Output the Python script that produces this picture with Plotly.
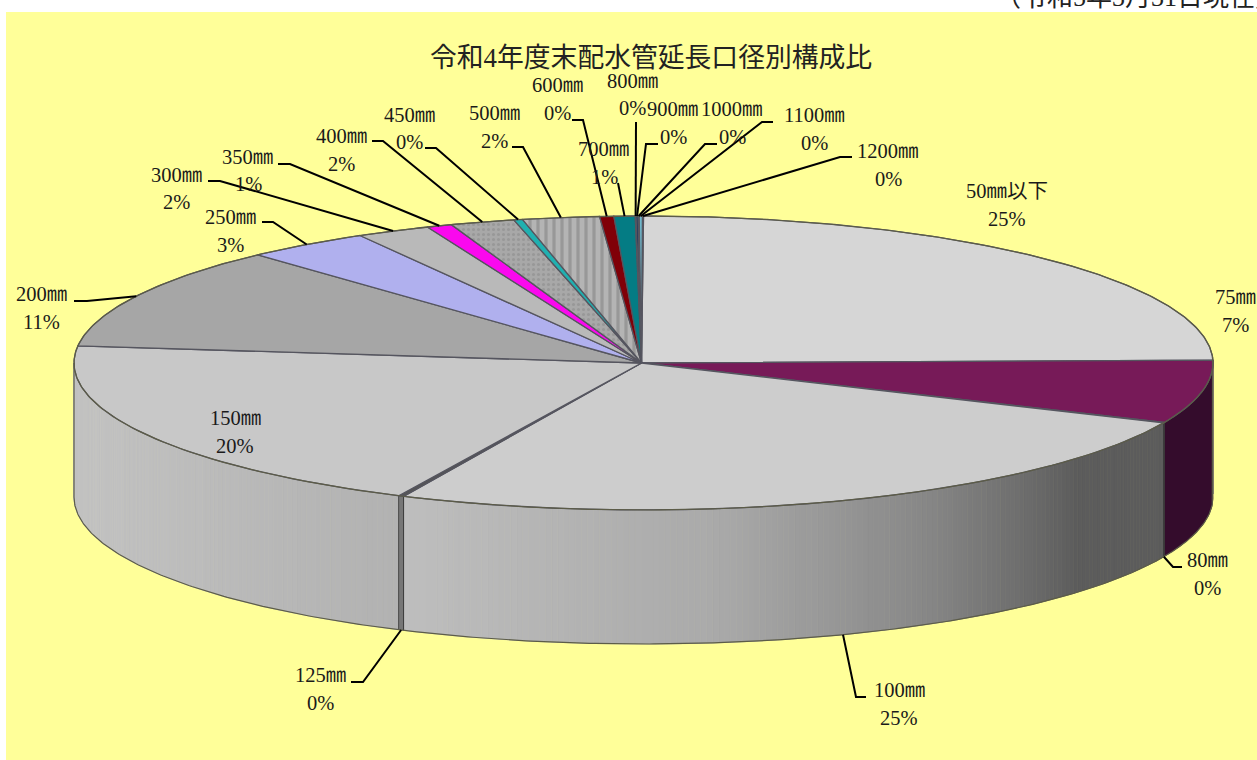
import math
import plotly.graph_objects as go

# ---- data ----
categories = ["50㎜以下", "75㎜", "80㎜", "100㎜", "125㎜", "150㎜", "200㎜", "250㎜", "300㎜", "350㎜",
              "400㎜", "450㎜", "500㎜", "600㎜", "700㎜", "800㎜", "900㎜", "1000㎜", "1100㎜", "1200㎜"]
shares = [24.7, 6.95, 0.05, 25.25, 0.15, 19.8, 11.3, 3.55, 2.1, 0.72,
          1.82, 0.25, 2.18, 0.4, 0.6, 0.02, 0.06, 0.03, 0.09, 0.03]
pct_labels = ["25%", "7%", "0%", "25%", "0%", "20%", "11%", "3%", "2%", "1%",
              "2%", "0%", "2%", "0%", "1%", "0%", "0%", "0%", "0%", "0%"]
title_text = "令和4年度末配水管延長口径別構成比"
note_text = "（令和5年3月31日現在）"

# ---- styles ----
top_colors = ["#d6d6d6", "#771a58", "#555555", "#cdcdcd", "#555555", "#c8c8c8", "#a6a6a6", "#b0b0ee", "#b9b9b9", "#fa08ee",
              "#a8a8a8", "#20b0b0", "#b4b4b4", "#800008", "#047c84", "#000030", "#103060", "#101040", "#70b8cc", "#c0c0e0"]
side_colors = ["#c0c0c0", "#340c2c", "#333333", None, "#777777", None, "#888888", "#8888bb", "#999999", "#aa00aa",
               "#888888", "#108080", "#888888", "#500000", "#005050", "#000000", "#202040", "#101030", "#6090a0", "#9090a0"]
patterned = {10: (".", 5, 0.3, "#989898"), 12: ("|", 8, 0.4, "#989898")}
grad_100 = [(0.0, (190, 190, 190)), (0.35, (170, 170, 170)), (0.6, (135, 135, 135)), (0.82, (92, 92, 92)), (1.0, (92, 92, 92))]
grad_150 = [(0.0, (178, 178, 178)), (0.5, (190, 190, 190)), (1.0, (196, 196, 196))]

# ---- label layout: (name x, name y, pct x, pct y, leader elbow points from anchor outward) ----
label_pos = [
    (1007, 191, 1007, 219, []), (1235, 297, 1235, 325, []),
    (1207, 560, 1207, 588, [(1173, 567), (1182, 567)]),
    (899, 690, 899, 718, [(856, 697), (866, 697)]),
    (320, 675, 320, 703, [(363, 682), (351, 682)]),
    (235, 418, 235, 446, []),
    (41, 294, 41, 322, [(87, 301), (74, 301)]),
    (230, 217, 230, 245, [(273, 222), (262, 222)]),
    (176, 175, 176, 202, [(220, 181), (208, 181)]),
    (247, 157, 248, 184, [(290, 164), (278, 164)]),
    (341, 136, 341, 164, [(383, 141), (372, 141)]),
    (409, 115, 409, 142, [(436, 148), (425, 148)]),
    (494, 113, 494, 141, [(523, 147), (512, 147)]),
    (557, 85, 557, 113, [(583, 120), (572, 120)]),
    (603, 149, 604, 177, [(618, 183)]),
    (632, 81, 632, 108, [(636, 122)]),
    (672, 109, 673, 137, [(646, 144), (658, 144)]),
    (732, 109, 732, 137, [(705, 144), (717, 144)]),
    (814, 115, 814, 143, [(762, 122), (773, 122)]),
    (888, 151, 888, 179, [(840, 157), (852, 157)]),
]

CX, CY, RX, RY, DEPTH = 643.5, 363.0, 569.5, 147.0, 134.0
APEX = (641.5, 363.0)
RIM = "#5c5c48"
SERIF = "'Liberation Serif','Noto Sans CJK JP',serif"
LABEL_SIZE = 20.5


def pt(t, dy=0.0):
    return CX + RX * math.sin(t), CY - RY * math.cos(t) + dy


def arc(t0, t1, dy=0.0):
    n = max(2, int(abs(t1 - t0) / math.radians(0.5)))
    return [pt(t0 + (t1 - t0) * i / n, dy) for i in range(n + 1)]


def lerp(stops, f):
    for (a, ca), (b, cb) in zip(stops, stops[1:]):
        if f <= b:
            k = (f - a) / (b - a)
            return "rgb(%d,%d,%d)" % tuple(round(x + (y - x) * k) for x, y in zip(ca, cb))
    return "rgb(%d,%d,%d)" % stops[-1][1]


total = sum(shares)
edges = [0.0]
for s in shares:
    edges.append(edges[-1] + s / total * 2 * math.pi)

fig = go.Figure()


def poly(points, fill, line=None, width=0.0, pattern=None, name=None):
    xs = [p[0] for p in points] + [points[0][0]]
    ys = [p[1] for p in points] + [points[0][1]]
    kw = {}
    if pattern:
        kw["fillpattern"] = pattern
    fig.add_trace(go.Scatter(x=xs, y=ys, mode="lines", fill="toself", fillcolor=fill,
                             line=dict(color=line or fill, width=width if line else 0.8),
                             hoverinfo="skip", showlegend=False, name=name, **kw))


# front wall of the disc
VIS0, VIS1 = math.pi / 2 - 0.02, 3 * math.pi / 2
for i in range(len(shares)):
    t0, t1 = max(edges[i], VIS0), min(edges[i + 1], VIS1)
    if t1 <= t0:
        continue
    stops = {3: grad_100, 5: grad_150}.get(i)
    if stops:
        n = max(2, int((t1 - t0) / math.radians(0.6)))
        for k in range(n):
            a, b = t0 + (t1 - t0) * k / n, t0 + (t1 - t0) * (k + 1) / n
            f = (k + 0.5) / n
            # gradient runs from the left end of the slice for the 100 mm wall
            col = lerp(stops, 1 - f) if i == 3 else lerp(stops, f)
            poly(arc(a, b) + arc(b, a, DEPTH), col)
    else:
        poly(arc(t0, t1) + arc(t1, t0, DEPTH), side_colors[i])

# vertical seams on the wall
for i in range(1, len(edges) - 1):
    if VIS0 < edges[i] < VIS1:
        a = pt(edges[i])
        b = pt(edges[i], DEPTH)
        fig.add_trace(go.Scatter(x=[a[0], b[0]], y=[a[1], b[1]], mode="lines",
                                 line=dict(color="#3c3c3c", width=1), hoverinfo="skip", showlegend=False))

# top face
for i in range(len(shares)):
    pattern = None
    if i in patterned:
        shape, size, solidity, fg = patterned[i]
        pattern = dict(shape=shape, size=size, solidity=solidity,
                       fgcolor=fg, bgcolor=top_colors[i], fillmode="replace")
    poly([APEX] + arc(edges[i], edges[i + 1]), top_colors[i], line="#55555f", width=1.3,
         pattern=pattern, name=categories[i])

# outer rims
rim_top = arc(0, 2 * math.pi)
fig.add_trace(go.Scatter(x=[p[0] for p in rim_top], y=[p[1] for p in rim_top], mode="lines",
                         line=dict(color=RIM, width=1.2), hoverinfo="skip", showlegend=False))
rim_bot = [pt(VIS0 - 0.02)] + arc(VIS0, VIS1, DEPTH) + [pt(VIS1)]
fig.add_trace(go.Scatter(x=[p[0] for p in rim_bot], y=[p[1] for p in rim_bot], mode="lines",
                         line=dict(color=RIM, width=1.2), hoverinfo="skip", showlegend=False))

# leaders and labels
annotations = []
for i, (nx, ny, px, py, elbows) in enumerate(label_pos):
    mid = (edges[i] + edges[i + 1]) / 2
    if elbows:
        anchor = pt(mid, DEPTH if VIS0 < mid < VIS1 else 0.0)
        path = [anchor] + elbows
        fig.add_trace(go.Scatter(x=[p[0] for p in path], y=[p[1] for p in path], mode="lines",
                                 line=dict(color="#000000", width=2), hoverinfo="skip", showlegend=False))
    annotations.append(dict(x=nx, y=ny, text=categories[i], showarrow=False, xref="x", yref="y",
                            font=dict(family=SERIF, size=LABEL_SIZE, color="#1a1a1a")))
    annotations.append(dict(x=px, y=py, text=pct_labels[i], showarrow=False, xref="x", yref="y",
                            font=dict(family=SERIF, size=LABEL_SIZE, color="#1a1a1a")))

annotations.append(dict(x=651, y=58, text=title_text, showarrow=False, xref="x", yref="y",
                        font=dict(family=SERIF, size=26.8, color="#222222")))
# note above the yellow panel, cut off by the top of the page as in the reference
annotations.append(dict(x=(993 - 6) / 1251, y=(760 + 3) / 748, text=note_text, showarrow=False,
                        xref="paper", yref="paper", xanchor="left", yanchor="middle",
                        font=dict(family=SERIF, size=26, color="#222222")))

fig.update_layout(
    width=1257, height=760, margin=dict(l=6, r=0, t=12, b=0),
    paper_bgcolor="#ffffff", plot_bgcolor="#ffff99", showlegend=False,
    annotations=annotations,
    xaxis=dict(range=[6, 1257], visible=False, fixedrange=True),
    yaxis=dict(range=[760, 12], visible=False, fixedrange=True),
)
fig.write_html("out.html", config=dict(displayModeBar=False),
               post_script="document.body.style.margin='0';document.body.style.overflow='hidden';")
